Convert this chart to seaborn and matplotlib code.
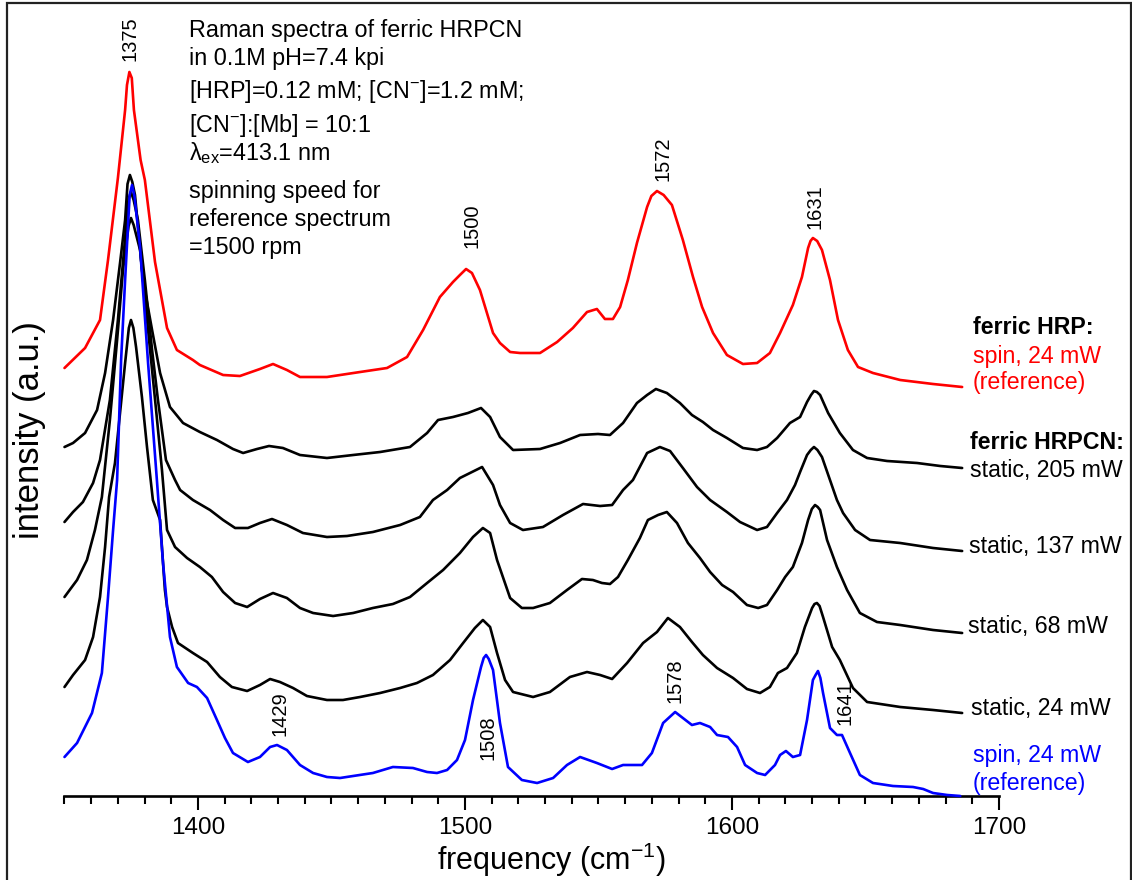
import matplotlib
matplotlib.use("Agg")
import matplotlib.pyplot as plt
import seaborn as sns
import pandas as pd
from matplotlib.patches import Rectangle
from matplotlib.ticker import MultipleLocator

# ---------------- data (frequency in cm-1, intensity in a.u.) ----------------
red_freq = [1350, 1357.7, 1363.3, 1366.3, 1370.0, 1372.7, 1373.4, 1374.3, 1375.2, 1376.0, 1378.5, 1380.1,
            1383.9, 1388.4, 1392.1, 1398.1, 1400.7, 1409.4, 1415.7, 1423.2, 1428.1, 1433.3,
            1438.2, 1448.3, 1460.7, 1470.8, 1478.3, 1484.3, 1490.6, 1495.5, 1498.1, 1500.4, 1502.6, 1505.6,
            1510.5, 1513.1, 1516.9, 1520.6, 1528.1, 1534.5, 1540.4, 1545.7, 1549.4, 1552.4,
            1555.4, 1558.1, 1561.0, 1564.4, 1568.2, 1569.8, 1571.9, 1574.4, 1577.5, 1581.6, 1585.4, 1588.8,
            1592.9, 1598.1, 1604.1, 1609.4, 1614.2, 1618.0, 1622.8, 1626.2, 1628.5, 1629.4, 1630.3, 1631.9,
            1633.7, 1636.7, 1639.7, 1643.4, 1647.2, 1652.8, 1663.0, 1675.3, 1686.2]
red_int = [428, 448, 476, 536, 618, 686, 711, 724, 718, 686, 636, 616,
           534, 468, 446, 436, 431, 421, 420, 427, 432, 426,
           419, 419, 424, 428, 439, 466, 499, 514, 521, 527, 523, 506,
           463, 453, 444, 443, 443, 454, 468, 484, 487, 477,
           477, 489, 516, 553, 589, 600, 605, 601, 591, 556, 519, 489,
           463, 441, 432, 433, 443, 463, 491, 519, 548, 555, 558, 555,
           546, 516, 476, 446, 429, 423, 416, 412, 409]

s205_freq = [1350, 1353.2, 1357.7, 1362.2, 1365.2, 1368.2, 1370.8, 1372.7, 1373.6, 1374.5, 1375.4, 1376.4,
             1379.4, 1382.8, 1385.8, 1389.5, 1394.4, 1400.7, 1407.1, 1413.1, 1416.9, 1422.1,
             1426.6, 1431.8, 1438.2, 1448.3, 1458.1, 1468.2, 1479.4, 1485.8, 1489.9, 1495.5,
             1501.1, 1506.0, 1509.4, 1513.1, 1518.0, 1528.1, 1535.6, 1543.1, 1549.8, 1554.3,
             1559.2, 1564.4, 1568.2, 1571.5, 1575.6, 1580.5, 1585.0, 1589.1, 1592.9, 1598.1,
             1604.1, 1609.4, 1613.1, 1616.9, 1621.7, 1625.5, 1628.1, 1629.6, 1630.7, 1631.8, 1633.0, 1636.0,
             1640.4, 1645.3, 1650.6, 1658.1, 1669.3, 1678.0, 1686.2]
s205_int = [349, 353, 363, 386, 423, 476, 533, 576, 612, 621, 614, 601,
            516, 466, 423, 389, 373, 364, 356, 347, 343, 347,
            350, 348, 341, 338, 341, 344, 349, 363, 376, 379,
            383, 388, 379, 359, 346, 347, 353, 361, 362, 361,
            373, 393, 401, 407, 403, 393, 381, 374, 366, 358,
            348, 346, 349, 358, 373, 379, 394, 401, 405, 404, 401, 383,
            363, 346, 338, 335, 333, 330, 328]

s137_freq = [1350, 1353.2, 1356.9, 1360.7, 1363.3, 1367.0, 1370.0, 1372.3, 1374.0, 1374.9, 1375.9, 1377.5,
             1380.1, 1382.8, 1385.0, 1388.0, 1391.4, 1393.3, 1398.1, 1404.5, 1409.4, 1413.9,
             1418.7, 1423.2, 1427.7, 1433.3, 1439.3, 1448.3, 1455.8, 1465.5, 1475.7, 1483.1,
             1488.0, 1493.3, 1498.1, 1506.4, 1510.5, 1513.1, 1516.9, 1521.7, 1529.2, 1536.7,
             1544.2, 1550.6, 1555.1, 1559.2, 1562.9, 1568.2, 1573.0, 1576.8, 1581.6, 1586.9,
             1591.8, 1598.1, 1603.0, 1609.4, 1613.1, 1616.9, 1620.6, 1623.6, 1625.5, 1628.1,
             1629.5, 1630.7, 1632.0, 1633.7, 1636.7, 1639.3, 1641.6, 1646.1, 1651.7, 1663.0, 1675.3, 1686.2]
s137_int = [274, 284, 294, 313, 336, 396, 476, 546, 597, 604, 596, 576,
            516, 446, 396, 336, 316, 306, 296, 286, 276, 268,
            268, 273, 277, 271, 263, 259, 260, 264, 271, 279,
            296, 306, 318, 329, 311, 291, 273, 266, 269, 281,
            292, 290, 291, 306, 316, 343, 349, 345, 328, 309,
            296, 284, 274, 266, 269, 283, 296, 311, 324, 341,
            346, 349, 346, 339, 316, 296, 283, 266, 256, 253, 248, 245]

s68_freq = [1350, 1354.7, 1358.4, 1361.4, 1364.0, 1367.0, 1369.7, 1371.9, 1374.0, 1374.9, 1375.9, 1378.3,
            1381.3, 1384.3, 1386.5, 1388.4, 1391.4, 1395.9, 1400.7, 1405.2, 1409.4, 1413.9,
            1418.4, 1423.2, 1428.1, 1433.3, 1438.2, 1443.1, 1450.6, 1458.1, 1465.5, 1473.0,
            1479.4, 1485.8, 1491.8, 1498.1, 1503.0, 1506.7, 1509.4, 1512.0, 1516.9, 1521.3,
            1525.5, 1531.8, 1538.2, 1543.8, 1547.9, 1551.3, 1554.3, 1557.3, 1561.0, 1565.5,
            1568.5, 1572.3, 1575.6, 1579.4, 1583.5, 1588.0, 1591.8, 1596.3, 1600.4, 1605.6,
            1609.8, 1613.1, 1616.9, 1619.9, 1622.8, 1626.2, 1628.5, 1629.9, 1631.1, 1632.1, 1633.0, 1635.6,
            1639.3, 1643.1, 1647.9, 1654.3, 1663.0, 1675.3, 1686.2]
s68_int = [199, 216, 236, 266, 299, 376, 456, 526, 570, 578, 571, 546,
           466, 386, 326, 266, 249, 238, 229, 219, 204, 193,
           189, 197, 203, 198, 188, 183, 180, 183, 188, 192,
           199, 213, 226, 243, 259, 268, 263, 236, 198, 188,
           188, 193, 206, 217, 216, 213, 212, 219, 236, 258,
           276, 281, 284, 273, 253, 238, 224, 211, 204, 191,
           188, 191, 206, 219, 229, 253, 276, 287, 291, 289, 286, 256,
           229, 206, 183, 174, 171, 166, 163]

s24_freq = [1350, 1353.2, 1357.7, 1360.7, 1363.3, 1365.2, 1366.7, 1368.9, 1370.8, 1372.7,
            1374.1, 1374.9, 1375.8, 1376.8, 1379.0, 1380.9, 1383.1, 1385.8, 1387.6, 1388.4, 1390.3, 1392.5,
            1398.1, 1403.4, 1408.2, 1412.7, 1418.4, 1423.2, 1427.0, 1430.7, 1435.6, 1440.8,
            1448.3, 1454.3, 1460.7, 1468.2, 1475.7, 1482.0, 1488.0, 1494.4, 1499.3, 1503.7,
            1506.7, 1509.4, 1512.0, 1515.0, 1518.0, 1525.5, 1531.8, 1539.3, 1545.7, 1550.6,
            1555.1, 1560.7, 1566.7, 1571.9, 1576.0, 1580.5, 1585.0, 1589.1, 1594.4, 1600.4,
            1605.6, 1610.5, 1614.2, 1617.2, 1620.6, 1624.3, 1627.3, 1630.0, 1630.9, 1631.8, 1632.8, 1634.1,
            1637.5, 1640.4, 1645.3, 1650.6, 1663.0, 1675.3, 1686.2]
s24_int = [109, 121, 136, 159, 199, 249, 299, 333, 383, 433,
           468, 476, 468, 449, 399, 349, 296, 276, 206, 189, 169, 153,
           143, 134, 119, 109, 105, 111, 117, 114, 108, 100,
           96, 96, 99, 103, 108, 113, 121, 136, 153, 168,
           176, 169, 143, 116, 104, 99, 104, 119, 124, 121,
           117, 133, 153, 164, 178, 169, 154, 141, 128, 118,
           107, 103, 109, 123, 128, 143, 169, 188, 192, 193, 190, 179,
           149, 136, 108, 94, 89, 86, 83]

blue_freq = [1350, 1354.7, 1360.3, 1364.0, 1366.3, 1368.2, 1369.7, 1371.2, 1372.7, 1374.4, 1375.3, 1376.2,
             1378.3, 1381.3, 1384.6, 1386.9, 1389.5, 1392.1, 1396.3, 1399.6, 1403.4, 1407.1,
             1410.1, 1413.1, 1418.7, 1423.2, 1427.0, 1429.6, 1433.3, 1438.2, 1443.1, 1448.3,
             1453.2, 1458.1, 1465.5, 1473.0, 1480.5, 1485.8, 1489.5, 1493.3, 1497.0, 1500.0,
             1503.0, 1506.0, 1507.0, 1507.9, 1508.9, 1510.5, 1513.1, 1516.1, 1521.3, 1527.0, 1533.0, 1538.2,
             1543.1, 1549.4, 1555.1, 1559.2, 1566.3, 1570.0, 1574.2, 1578.7, 1581.6, 1585.0,
             1588.0, 1591.8, 1594.4, 1598.5, 1601.9, 1604.9, 1609.4, 1612.4, 1616.1, 1618.0,
             1620.2, 1622.8, 1625.5, 1628.1, 1630.3, 1631.3, 1632.2, 1633.1, 1634.1, 1636.7, 1639.3, 1641.2,
             1644.2, 1647.9, 1652.8, 1660.3, 1667.8, 1671.6, 1675.3, 1680.6, 1685.5]
blue_int = [39, 53, 83, 123, 199, 266, 316, 436, 516, 601, 611, 600,
            549, 433, 316, 233, 159, 129, 113, 109, 98, 76,
            58, 43, 34, 39, 49, 51, 46, 31, 23, 19,
            18, 20, 23, 29, 28, 24, 23, 26, 36, 56,
            96, 129, 138, 141, 137, 126, 73, 29, 16, 13, 18, 31,
            39, 33, 27, 31, 31, 43, 73, 84, 78, 71,
            73, 69, 61, 59, 49, 31, 23, 21, 31, 41,
            45, 39, 41, 76, 116, 121, 125, 118, 103, 68, 61, 61,
            43, 21, 13, 10, 9, 7, 3, 1, 0]

peak_labels = ["1375", "1500", "1572", "1631", "1429", "1508", "1578", "1641"]
peak_freqs = [1374.6, 1502.5, 1574.2, 1631.1, 1430.7, 1508.6, 1578.7, 1642.3]

xtick_values = [1400, 1500, 1600, 1700]

info_lines = ["Raman spectra of ferric HRPCN",
              "in 0.1M pH=7.4 kpi",
              "[HRP]=0.12 mM; [CN$^{\\mathregular{-}}$]=1.2 mM;",
              "[CN$^{\\mathregular{-}}$]:[Mb] = 10:1",
              "\u03bb$_{\\mathregular{ex}}$=413.1 nm",
              "spinning speed for",
              "reference spectrum",
              "=1500 rpm"]

# ---------------- styling ----------------
sns.set_theme(style="white")
plt.rcParams["font.family"] = ["Liberation Sans", "DejaVu Sans"]
plt.rcParams["mathtext.default"] = "regular"
plt.rcParams["text.color"] = "black"
plt.rcParams["axes.labelcolor"] = "black"
plt.rcParams["xtick.color"] = "black"
plt.rcParams["lines.solid_joinstyle"] = "round"

W, H = 1132, 880
fig = plt.figure(figsize=(W / 100, H / 100), dpi=100)
fig.patch.set_facecolor("white")
ax = fig.add_axes([64.5 / W, (H - 796) / H, (999 - 64.5) / W, (796 - 3) / H])
ax.set_facecolor("white")


def fx(px):
    return px / W


def fy(py):
    return 1 - py / H


series = [
    (red_freq, red_int, "#ff0000", 2),
    (s205_freq, s205_int, "#000000", 3),
    (s137_freq, s137_int, "#000000", 3),
    (s68_freq, s68_int, "#000000", 3),
    (s24_freq, s24_int, "#000000", 3),
    (blue_freq, blue_int, "#0000ff", 4),
]
for fr, it, col, z in series:
    sns.lineplot(x=fr, y=it, color=col, linewidth=1.9, ax=ax, sort=False,
                 estimator=None, zorder=z, clip_on=False)

ax.set_xlim(1350, 1700)
ax.set_ylim(0, 793)
for s in ["left", "top", "right"]:
    ax.spines[s].set_visible(False)
ax.spines["bottom"].set_linewidth(1.9)
ax.spines["bottom"].set_color("black")
ax.set_yticks([])
ax.set_xticks(xtick_values)
ax.set_xticklabels([str(v) for v in xtick_values])
ax.xaxis.set_minor_locator(MultipleLocator(10))
ax.tick_params(axis="x", which="major", direction="out", length=10, width=1.5,
               labelsize=17.5, pad=5, color="black", labelcolor="black", bottom=True)
ax.tick_params(axis="x", which="minor", direction="out", length=5.5, width=1.5,
               color="black", bottom=True)

ax.set_xlabel("frequency (cm$^{\\mathregular{-1}}$)", fontsize=22, color="black")
ax.xaxis.set_label_coords((552 - 64.5) / 934.5, (796 - 860) / 793)
ax.xaxis.label.set_va("center")
ax.set_ylabel("intensity (a.u.)", fontsize=25, color="black")
ax.yaxis.set_label_coords((30 - 64.5) / 934.5, (796 - 430) / 793)
ax.yaxis.label.set_va("center")

# info text block
baselines = [37, 65, 98, 132, 160, 198, 226, 254]
for line, b in zip(info_lines, baselines):
    fig.text(fx(189), fy(b), line, fontsize=16.8, ha="left", va="baseline", color="black")

# peak labels (rotated)
peak_y = [757, 570, 637, 589, 82, 58, 115, 93]
for lab, f, y in zip(peak_labels, peak_freqs, peak_y):
    ax.text(f, y, lab, rotation=90, ha="center", va="center", fontsize=14.5, color="black")

# right-hand labels
right = [
    ("ferric HRP:", 973, 334, "black", "bold"),
    ("spin, 24 mW", 973, 363, "#ff0000", "normal"),
    ("(reference)", 973, 389, "#ff0000", "normal"),
    ("ferric HRPCN:", 970, 449, "black", "bold"),
    ("static, 205 mW", 970, 477, "black", "normal"),
    ("static, 137 mW", 969, 553, "black", "normal"),
    ("static, 68 mW", 968, 633, "black", "normal"),
    ("static, 24 mW", 971, 715, "black", "normal"),
    ("spin, 24 mW", 973, 762, "#0000ff", "normal"),
    ("(reference)", 973, 790, "#0000ff", "normal"),
]
for t, x, b, c, w in right:
    fig.text(fx(x), fy(b), t, fontsize=16.7, color=c, fontweight=w, ha="left", va="baseline")

# outer frame
fig.add_artist(Rectangle((fx(7), -0.05), fx(1131) - fx(7), fy(3) + 0.05,
                         transform=fig.transFigure, fill=False, edgecolor="#222222",
                         linewidth=1.6, clip_on=False))

fig.savefig("out.png", dpi=100)
